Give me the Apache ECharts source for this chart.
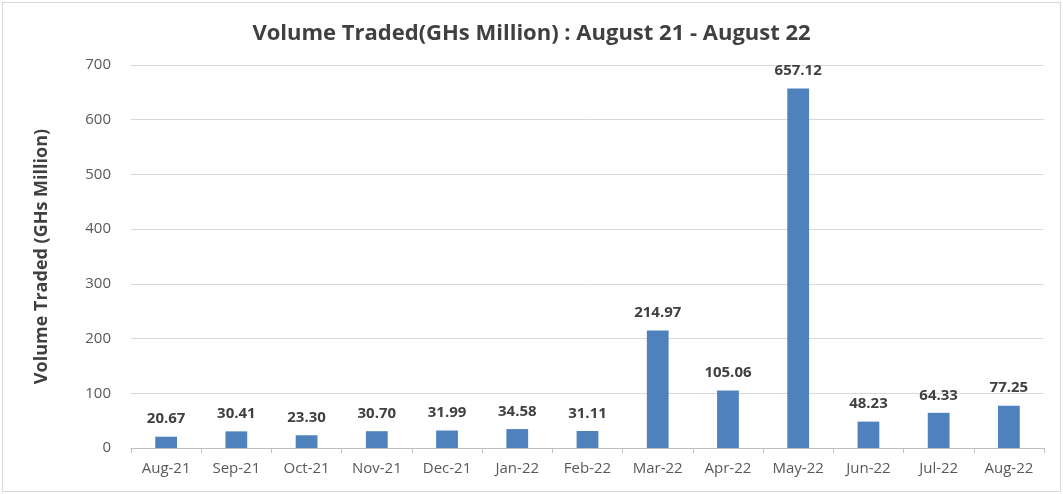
<!DOCTYPE html>
<html>
<head>
<meta charset="utf-8">
<script src="https://cdn.jsdelivr.net/npm/echarts@6/dist/echarts.min.js"></script>
<style>
  html, body { margin: 0; padding: 0; background: #fff; }
  #chart { position: absolute; left: 2px; top: 2px; width: 1057px; height: 488px; border: 1px solid #d9d9d9; }
</style>
</head>
<body>
<div id="chart"></div>
<script>
const months = ['Aug-21', 'Sep-21', 'Oct-21', 'Nov-21', 'Dec-21', 'Jan-22', 'Feb-22',
  'Mar-22', 'Apr-22', 'May-22', 'Jun-22', 'Jul-22', 'Aug-22']
const volume = [20.67, 30.41, 23.30, 30.70, 31.99, 34.58, 31.11,
  214.97, 105.06, 657.12, 48.23, 64.33, 77.25]

const chart = echarts.init(document.getElementById('chart'))
chart.setOption({
  animation: false,
  title: {
    text: 'Volume Traded(GHs Million) : August 21 - August 22',
    left: 'center',
    top: 15,
    textStyle: {
      fontFamily: 'Open Sans',
      fontSize: 22,
      fontWeight: 'bold',
      color: '#404040'
    }
  },
  grid: {
    left: 128,
    right: 16,
    top: 62,
    bottom: 43
  },
  xAxis: {
    type: 'category',
    data: months,
    axisLine: { lineStyle: { color: '#bfbfbf' } },
    axisTick: { show: true, length: 5, lineStyle: { color: '#bfbfbf' } },
    axisLabel: { color: '#595959', fontSize: 15, fontFamily: 'Open Sans', margin: 13 }
  },
  yAxis: {
    type: 'value',
    min: 0,
    max: 700,
    interval: 100,
    name: 'Volume Traded (GHs Million)',
    nameLocation: 'middle',
    nameGap: 80,
    nameTextStyle: { fontFamily: 'Open Sans', fontSize: 18, fontWeight: 'bold', color: '#404040' },
    axisLine: { show: false },
    axisTick: { show: false },
    axisLabel: { color: '#595959', fontSize: 15, fontFamily: 'Open Sans', margin: 20 },
    splitLine: { lineStyle: { color: '#d9d9d9' } }
  },
  series: [{
    type: 'bar',
    data: volume,
    barWidth: '31%',
    itemStyle: { color: '#4f81bd' },
    label: {
      show: true,
      position: 'top',
      distance: 10,
      formatter: p => p.value.toFixed(2),
      fontFamily: 'Open Sans',
      fontSize: 15,
      fontWeight: 'bold',
      color: '#404040'
    }
  }]
})
</script>
</body>
</html>
